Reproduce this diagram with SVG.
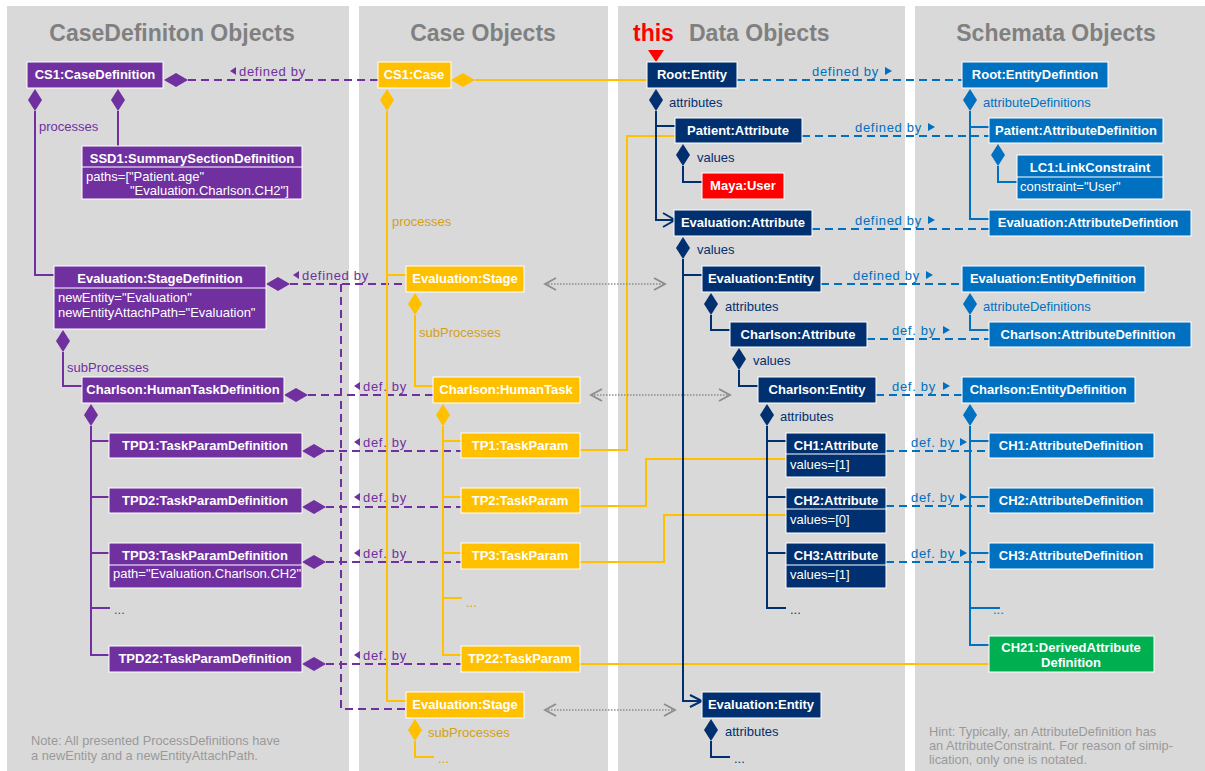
<svg xmlns="http://www.w3.org/2000/svg" width="1205" height="771" viewBox="0 0 1205 771">
  <style>
    .panel { fill: #d9d9d9; }
    .title { font: bold 23px "Liberation Sans", Arial, sans-serif; fill: #808080; }
    .nt { font: bold 13px "Liberation Sans", Arial, sans-serif; fill: #fff; text-anchor: middle; }
    .bt { font: 13px "Liberation Sans", Arial, sans-serif; fill: #fff; }
    .lbl { font: 13px "Liberation Sans", Arial, sans-serif; }
    .sp { letter-spacing: 0.7px; }
    .box { stroke: #fff; stroke-width: 1; }
    .div { stroke: #fff; stroke-width: 1; }
    .pu { fill: #7030a0; }
    .ye { fill: #ffc000; }
    .yl { fill: #d4a017; }
    .nv { fill: #003070; }
    .bl { fill: #0070c0; }
    .gr { fill: #00b050; }
    .rd { fill: #ff0000; }
    .note { font: 12.8px "Liberation Sans", Arial, sans-serif; fill: #999999; }
    .lp { stroke: #7030a0; stroke-width: 2; fill: none; }
    .ly { stroke: #ffc000; stroke-width: 2; fill: none; }
    .ln { stroke: #003070; stroke-width: 2; fill: none; }
    .lb { stroke: #0070c0; stroke-width: 2; fill: none; }
    .dash { stroke-dasharray: 8 5; }
    .dot { stroke: #8c8c8c; stroke-width: 1.5; fill: none; stroke-dasharray: 1.5 1.5; }
    .chev { stroke: #8c8c8c; stroke-width: 1.8; fill: none; }
  </style>
  <defs>
    <!-- composition diamonds: vertical (below a box) and horizontal (beside a box) -->
    <polygon id="dv" points="0,0 7,11 0,22 -7,11"/>
    <polygon id="dh" points="0,0 12,-7 24,0 12,7"/>
  </defs>

  <rect width="1205" height="771" fill="#fff"/>

  <!-- column panels -->
  <rect class="panel" x="7" y="6" width="342" height="765"/>
  <rect class="panel" x="359" y="6" width="249" height="765"/>
  <rect class="panel" x="618" y="6" width="287" height="765"/>
  <rect class="panel" x="915" y="6" width="290" height="765"/>

  <!-- column headings -->
  <text class="title" x="172" y="41" text-anchor="middle">CaseDefiniton Objects</text>
  <text class="title" x="483" y="41" text-anchor="middle">Case Objects</text>
  <text class="title" x="633" y="41" style="fill:#ff0000">this</text>
  <text class="title" x="689" y="41">Data Objects</text>
  <text class="title" x="1056" y="41" text-anchor="middle">Schemata Objects</text>
  <polygon points="648,50 664,50 656,62" fill="#ff0000"/>

  <!-- connectors -->
  <g id="connectors">
    <!-- purple: case definition structure -->
    <path class="lp" d="M35,111 V275 H54"/>
    <path class="lp" d="M118,111 V146"/>
    <path class="lp" d="M63,352 V386 H82"/>
    <path class="lp" d="M91,426 V655 H109 M91,441 H109 M91,497 H109 M91,553 H109 M91,608 H110"/>
    <path class="lp dash" d="M188,80 H378"/>
    <path class="lp dash" d="M290,284 H406 M341,284 V709 H406"/>
    <path class="lp dash" d="M308,395 H433"/>
    <path class="lp dash" d="M326,451 H461 M326,507 H461 M326,562 H461 M326,664 H461"/>
    <use href="#dv" x="35" y="89" class="pu"/>
    <use href="#dv" x="118" y="89" class="pu"/>
    <use href="#dv" x="63" y="330" class="pu"/>
    <use href="#dv" x="91" y="404" class="pu"/>
    <use href="#dh" x="164" y="80" class="pu"/>
    <use href="#dh" x="266" y="284" class="pu"/>
    <use href="#dh" x="284" y="395" class="pu"/>
    <use href="#dh" x="302" y="451" class="pu"/>
    <use href="#dh" x="302" y="507" class="pu"/>
    <use href="#dh" x="302" y="562" class="pu"/>
    <use href="#dh" x="302" y="664" class="pu"/>
    <text class="lbl pu" x="39" y="131">processes</text>
    <text class="lbl pu" x="67" y="372">subProcesses</text>
    <polygon class="pu" points="230,71 236,67 236,75"/>
    <text class="lbl pu sp" x="239" y="76">defined by</text>
    <polygon class="pu" points="293,275 299,271 299,279"/>
    <text class="lbl pu sp" x="302" y="280">defined by</text>
    <polygon class="pu" points="354,386 360,382 360,390"/>
    <text class="lbl pu sp" x="363" y="391">def. by</text>
    <polygon class="pu" points="354,442 360,438 360,446"/>
    <text class="lbl pu sp" x="363" y="447">def. by</text>
    <polygon class="pu" points="354,497 360,493 360,501"/>
    <text class="lbl pu sp" x="363" y="502">def. by</text>
    <polygon class="pu" points="354,553 360,549 360,557"/>
    <text class="lbl pu sp" x="363" y="558">def. by</text>
    <polygon class="pu" points="354,655 360,651 360,659"/>
    <text class="lbl pu sp" x="363" y="660">def. by</text>
    <text class="lbl pu" x="114" y="614">...</text>

    <!-- yellow: case structure -->
    <path class="ly" d="M475,80 H647"/>
    <path class="ly" d="M387,111 V701 H406 M387,275 H406"/>
    <path class="ly" d="M415,315 V386 H433"/>
    <path class="ly" d="M443,426 V655 H461 M443,441 H461 M443,497 H461 M443,553 H461 M443,598 H462"/>
    <path class="ly" d="M415,741 V757 H434"/>
    <use href="#dh" x="451" y="80" class="ye"/>
    <use href="#dv" x="387" y="89" class="ye"/>
    <use href="#dv" x="415" y="293" class="ye"/>
    <use href="#dv" x="443" y="404" class="ye"/>
    <use href="#dv" x="415" y="719" class="ye"/>
    <text class="lbl yl" x="392" y="226">processes</text>
    <text class="lbl yl" x="419" y="337">subProcesses</text>
    <text class="lbl yl" x="428" y="737">subProcesses</text>
    <text class="lbl yl" x="466" y="607">...</text>
    <text class="lbl yl" x="438" y="763">...</text>
    <!-- task parameters bound to data -->
    <path class="ly" d="M580,450 H627 V136 H675"/>
    <path class="ly" d="M580,506 H646 V459 H786"/>
    <path class="ly" d="M580,562 H664 V515 H786"/>
    <path class="ly" d="M580,664 H989"/>

    <!-- dotted correspondences between stages and entities -->
    <path class="dot" d="M545,284 H664"/>
    <path class="chev" d="M556,278 L545,284 L556,290 M654,278 L665,284 L654,290"/>
    <path class="dot" d="M591,395 H729"/>
    <path class="chev" d="M602,389 L591,395 L602,401 M719,389 L730,395 L719,401"/>
    <path class="dot" d="M545,710 H674"/>
    <path class="chev" d="M556,704 L545,710 L556,716 M664,704 L675,710 L664,716"/>

    <!-- navy: data structure -->
    <path class="ln" d="M656,111 V220 H674 M656,126 H675"/>
    <path class="ln" d="M663,213 L675,220 L663,227"/>
    <path class="ln" d="M683,166 V182 H702"/>
    <path class="ln" d="M683,259 V701 H702 M683,275 H702"/>
    <path class="ln" d="M690,695 L702,701 L690,707"/>
    <path class="ln" d="M711,315 V330 H730"/>
    <path class="ln" d="M739,370 V386 H758"/>
    <path class="ln" d="M767,426 V608 H786 M767,441 H786 M767,497 H786 M767,553 H786"/>
    <path class="ln" d="M711,741 V757 H730"/>
    <use href="#dv" x="656" y="89" class="nv"/>
    <use href="#dv" x="683" y="144" class="nv"/>
    <use href="#dv" x="683" y="237" class="nv"/>
    <use href="#dv" x="711" y="293" class="nv"/>
    <use href="#dv" x="739" y="348" class="nv"/>
    <use href="#dv" x="767" y="404" class="nv"/>
    <use href="#dv" x="711" y="719" class="nv"/>
    <text class="lbl nv" x="669" y="107">attributes</text>
    <text class="lbl nv" x="697" y="162">values</text>
    <text class="lbl nv" x="697" y="254">values</text>
    <text class="lbl nv" x="725" y="311">attributes</text>
    <text class="lbl nv" x="753" y="365">values</text>
    <text class="lbl nv" x="780" y="421">attributes</text>
    <text class="lbl nv" x="725" y="736">attributes</text>
    <text class="lbl nv" x="790" y="614">...</text>
    <text class="lbl nv" x="734" y="763">...</text>

    <!-- blue: defined-by links to schemata -->
    <path class="lb dash" d="M737,80 H962"/>
    <path class="lb dash" d="M802,136 H989"/>
    <path class="lb dash" d="M812,229 H989"/>
    <path class="lb dash" d="M821,284 H962"/>
    <path class="lb dash" d="M867,339 H989"/>
    <path class="lb dash" d="M876,395 H962"/>
    <path class="lb dash" d="M886,451 H989"/>
    <path class="lb dash" d="M886,506 H989"/>
    <path class="lb dash" d="M886,562 H989"/>
    <text class="lbl bl sp" x="812" y="76">defined by</text>
    <polygon class="bl" points="885,67 892,71 885,75"/>
    <text class="lbl bl sp" x="855" y="132">defined by</text>
    <polygon class="bl" points="928,123 935,127 928,131"/>
    <text class="lbl bl sp" x="855" y="225">defined by</text>
    <polygon class="bl" points="928,216 935,220 928,224"/>
    <text class="lbl bl sp" x="853" y="280">defined by</text>
    <polygon class="bl" points="926,271 933,275 926,279"/>
    <text class="lbl bl sp" x="892" y="335">def. by</text>
    <polygon class="bl" points="943,326 950,330 943,334"/>
    <text class="lbl bl sp" x="892" y="391">def. by</text>
    <polygon class="bl" points="943,382 950,386 943,390"/>
    <text class="lbl bl sp" x="911" y="447">def. by</text>
    <polygon class="bl" points="960,438 967,442 960,446"/>
    <text class="lbl bl sp" x="911" y="502">def. by</text>
    <polygon class="bl" points="960,493 967,497 960,501"/>
    <text class="lbl bl sp" x="911" y="558">def. by</text>
    <polygon class="bl" points="960,549 967,553 960,557"/>

    <!-- blue: schemata structure -->
    <path class="lb" d="M970,111 V219 H989 M970,127 H989"/>
    <path class="lb" d="M998,166 V182 H1017"/>
    <path class="lb" d="M970,315 V330 H989"/>
    <path class="lb" d="M970,426 V645 H989 M970,441 H989 M970,497 H989 M970,553 H989 M970,608 H1000"/>
    <use href="#dv" x="970" y="89" class="bl"/>
    <use href="#dv" x="998" y="144" class="bl"/>
    <use href="#dv" x="970" y="293" class="bl"/>
    <use href="#dv" x="970" y="404" class="bl"/>
    <text class="lbl bl" x="983" y="107">attributeDefinitions</text>
    <text class="lbl bl" x="983" y="311">attributeDefinitions</text>
    <text class="lbl bl" x="993" y="614">...</text>
  </g>

  <!-- case definition objects -->
  <g id="cs1-casedefinition"><rect class="box pu" x="27" y="62" width="136" height="26"/><text class="nt" x="95" y="79">CS1:CaseDefinition</text></g>
  <g id="ssd1">
    <rect class="box pu" x="82" y="146" width="220" height="53"/>
    <line class="div" x1="82" y1="167" x2="302" y2="167"/>
    <text class="nt" x="192" y="163">SSD1:SummarySectionDefinition</text>
    <text class="bt" x="86" y="181">paths=["Patient.age"</text>
    <text class="bt" x="130" y="195">"Evaluation.Charlson.CH2"]</text>
  </g>
  <g id="evaluation-stagedefinition">
    <rect class="box pu" x="54" y="266" width="212" height="63"/>
    <line class="div" x1="54" y1="288" x2="266" y2="288"/>
    <text class="nt" x="160" y="283">Evaluation:StageDefinition</text>
    <text class="bt" x="58" y="302">newEntity="Evaluation"</text>
    <text class="bt" x="58" y="317">newEntityAttachPath="Evaluation"</text>
  </g>
  <g id="charlson-humantaskdefinition"><rect class="box pu" x="82" y="377" width="202" height="26"/><text class="nt" x="183" y="394">Charlson:HumanTaskDefinition</text></g>
  <g id="tpd1"><rect class="box pu" x="109" y="433" width="193" height="25"/><text class="nt" x="205" y="450">TPD1:TaskParamDefinition</text></g>
  <g id="tpd2"><rect class="box pu" x="109" y="488" width="193" height="25"/><text class="nt" x="205" y="505">TPD2:TaskParamDefinition</text></g>
  <g id="tpd3">
    <rect class="box pu" x="109" y="543" width="193" height="45"/>
    <line class="div" x1="109" y1="565" x2="302" y2="565"/>
    <text class="nt" x="205" y="560">TPD3:TaskParamDefinition</text>
    <text class="bt" x="113" y="578">path="Evaluation.Charlson.CH2"</text>
  </g>
  <g id="tpd22"><rect class="box pu" x="109" y="646" width="193" height="26"/><text class="nt" x="205" y="663">TPD22:TaskParamDefinition</text></g>

  <!-- case objects -->
  <g id="cs1-case"><rect class="box ye" x="378" y="62" width="73" height="26"/><text class="nt" x="414" y="79">CS1:Case</text></g>
  <g id="evaluation-stage"><rect class="box ye" x="406" y="266" width="118" height="26"/><text class="nt" x="465" y="283">Evaluation:Stage</text></g>
  <g id="charlson-humantask"><rect class="box ye" x="433" y="377" width="147" height="26"/><text class="nt" x="506" y="394">Charlson:HumanTask</text></g>
  <g id="tp1"><rect class="box ye" x="461" y="433" width="119" height="25"/><text class="nt" x="520" y="450">TP1:TaskParam</text></g>
  <g id="tp2"><rect class="box ye" x="461" y="488" width="119" height="25"/><text class="nt" x="520" y="505">TP2:TaskParam</text></g>
  <g id="tp3"><rect class="box ye" x="461" y="543" width="119" height="26"/><text class="nt" x="520" y="560">TP3:TaskParam</text></g>
  <g id="tp22"><rect class="box ye" x="461" y="646" width="119" height="26"/><text class="nt" x="520" y="663">TP22:TaskParam</text></g>
  <g id="evaluation-stage-2"><rect class="box ye" x="406" y="692" width="118" height="26"/><text class="nt" x="465" y="709">Evaluation:Stage</text></g>

  <!-- data objects -->
  <g id="root-entity"><rect class="box nv" x="647" y="62" width="90" height="26"/><text class="nt" x="692" y="79">Root:Entity</text></g>
  <g id="patient-attribute"><rect class="box nv" x="675" y="118" width="127" height="25"/><text class="nt" x="738" y="135">Patient:Attribute</text></g>
  <g id="maya-user"><rect class="box rd" x="702" y="173" width="82" height="26"/><text class="nt" x="743" y="190">Maya:User</text></g>
  <g id="evaluation-attribute"><rect class="box nv" x="674" y="210" width="138" height="26"/><text class="nt" x="743" y="227">Evaluation:Attribute</text></g>
  <g id="evaluation-entity"><rect class="box nv" x="702" y="266" width="119" height="26"/><text class="nt" x="761" y="283">Evaluation:Entity</text></g>
  <g id="charlson-attribute"><rect class="box nv" x="730" y="322" width="137" height="25"/><text class="nt" x="798" y="339">Charlson:Attribute</text></g>
  <g id="charlson-entity"><rect class="box nv" x="758" y="377" width="118" height="26"/><text class="nt" x="817" y="394">Charlson:Entity</text></g>
  <g id="ch1-attribute">
    <rect class="box nv" x="786" y="433" width="100" height="44"/>
    <line class="div" x1="786" y1="454" x2="886" y2="454"/>
    <text class="nt" x="836" y="450">CH1:Attribute</text>
    <text class="bt" x="790" y="469">values=[1]</text>
  </g>
  <g id="ch2-attribute">
    <rect class="box nv" x="786" y="488" width="100" height="45"/>
    <line class="div" x1="786" y1="509" x2="886" y2="509"/>
    <text class="nt" x="836" y="505">CH2:Attribute</text>
    <text class="bt" x="790" y="524">values=[0]</text>
  </g>
  <g id="ch3-attribute">
    <rect class="box nv" x="786" y="543" width="100" height="45"/>
    <line class="div" x1="786" y1="565" x2="886" y2="565"/>
    <text class="nt" x="836" y="560">CH3:Attribute</text>
    <text class="bt" x="790" y="579">values=[1]</text>
  </g>
  <g id="evaluation-entity-2"><rect class="box nv" x="702" y="692" width="119" height="26"/><text class="nt" x="761" y="709">Evaluation:Entity</text></g>

  <!-- schemata objects -->
  <g id="root-entitydefinition"><rect class="box bl" x="962" y="62" width="146" height="26"/><text class="nt" x="1035" y="79">Root:EntityDefintion</text></g>
  <g id="patient-attributedefinition"><rect class="box bl" x="989" y="118" width="174" height="25"/><text class="nt" x="1076" y="135">Patient:AttributeDefinition</text></g>
  <g id="lc1-linkconstraint">
    <rect class="box bl" x="1017" y="155" width="146" height="44"/>
    <line class="div" x1="1017" y1="177" x2="1163" y2="177"/>
    <text class="nt" x="1090" y="172">LC1:LinkConstraint</text>
    <text class="bt" x="1020" y="191">constraint="User"</text>
  </g>
  <g id="evaluation-attributedefinition"><rect class="box bl" x="989" y="210" width="202" height="26"/><text class="nt" x="1088" y="227">Evaluation:AttributeDefintion</text></g>
  <g id="evaluation-entitydefinition"><rect class="box bl" x="962" y="266" width="183" height="26"/><text class="nt" x="1053" y="283">Evaluation:EntityDefinition</text></g>
  <g id="charlson-attributedefinition"><rect class="box bl" x="989" y="322" width="202" height="25"/><text class="nt" x="1088" y="339">Charlson:AttributeDefinition</text></g>
  <g id="charlson-entitydefinition"><rect class="box bl" x="962" y="377" width="173" height="26"/><text class="nt" x="1048" y="394">Charlson:EntityDefinition</text></g>
  <g id="ch1-attributedefinition"><rect class="box bl" x="989" y="433" width="165" height="25"/><text class="nt" x="1071" y="450">CH1:AttributeDefinition</text></g>
  <g id="ch2-attributedefinition"><rect class="box bl" x="989" y="488" width="165" height="25"/><text class="nt" x="1071" y="505">CH2:AttributeDefinition</text></g>
  <g id="ch3-attributedefinition"><rect class="box bl" x="989" y="543" width="165" height="26"/><text class="nt" x="1071" y="560">CH3:AttributeDefinition</text></g>
  <g id="ch21-derivedattributedefinition">
    <rect class="box gr" x="989" y="636" width="165" height="36"/>
    <text class="nt" x="1071" y="652">CH21:DerivedAttribute</text>
    <text class="nt" x="1071" y="667">Definition</text>
  </g>

  <!-- footnotes -->
  <text class="note" x="31" y="745">Note: All presented ProcessDefinitions have</text>
  <text class="note" x="31" y="760">a newEntity and a newEntityAttachPath.</text>
  <text class="note" x="929" y="736">Hint: Typically, an AttributeDefinition has</text>
  <text class="note" x="929" y="750">an AttributeConstraint. For reason of simip-</text>
  <text class="note" x="929" y="764">lication, only one is notated.</text>
</svg>
